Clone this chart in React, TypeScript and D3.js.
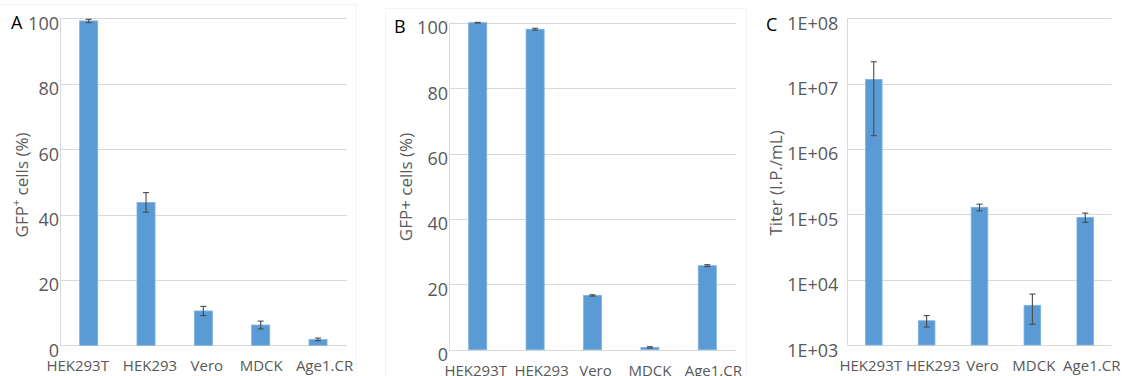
import React, { useEffect, useRef } from "react";
import * as d3 from "d3";

// Cell lines shared by all three panels
const categories = ["HEK293T", "HEK293", "Vero", "MDCK", "Age1.CR"];

// Panel A: GFP+ cells (%)
const gfpA = [99.2, 43.7, 10.5, 6.2, 1.8];
const gfpAErr = [0.5, 3.0, 1.4, 1.2, 0.4];

// Panel B: GFP+ cells (%)
const gfpB = [100, 98.0, 16.6, 0.7, 25.7];
const gfpBErr = [0.1, 0.3, 0.2, 0.2, 0.3];

// Panel C: titer (I.P./mL)
const titerC = [1.16e7, 2350, 1.28e5, 4050, 9.0e4];
const titerCErr = [1.0e7, 470, 1.5e4, 1970, 1.45e4];

const linearTicks = [0, 20, 40, 60, 80, 100];
const logTicks = [1e3, 1e4, 1e5, 1e6, 1e7, 1e8];
const logTickLabels = ["1E+03", "1E+04", "1E+05", "1E+06", "1E+07", "1E+08"];

const BAR = "#5b9bd5";
const GRID = "#d9d9d9";
const TEXT = "#595959";
const ERR = "#4a4a4a";
const FONT = "'Open Sans', 'Segoe UI', sans-serif";

type PanelSpec = {
  letter: string;
  letterX: number;
  letterY: number;
  values: number[];
  errors: number[];
  log: boolean;
  x0: number;
  x1: number;
  yBottom: number;
  yTop: number;
  tickGap: number;
  title: string;
  titleSup: boolean;
  titleX: number;
  titleY: number;
  catY: number;
  labelDx: number[];
};

const panels: PanelSpec[] = [
  {
    letter: "A", letterX: 11, letterY: 29,
    values: gfpA, errors: gfpAErr, log: false,
    x0: 60, x1: 346.7, yBottom: 345.3, yTop: 18.3, tickGap: 1,
    title: "GFP", titleSup: true, titleX: 21, titleY: 185,
    catY: 371, labelDx: [-11, 4, 3.5, 0.5, 6.5],
  },
  {
    letter: "B", letterX: 394, letterY: 33,
    values: gfpB, errors: gfpBErr, log: false,
    x0: 449, x1: 736, yBottom: 349.7, yTop: 22.7, tickGap: 1,
    title: "GFP+ cells (%)", titleSup: false, titleX: 405, titleY: 187,
    catY: 376, labelDx: [-2, 6.5, 3, 0, 6],
  },
  {
    letter: "C", letterX: 766, letterY: 31,
    values: titerC, errors: titerCErr, log: true,
    x0: 847.3, x1: 1111.7, yBottom: 345, yTop: 18.3, tickGap: 9,
    title: "Titer (I.P./mL)", titleSup: false, titleX: 775, titleY: 183,
    catY: 371, labelDx: [-3, 6.5, 3, 1.5, 6.5],
  },
];

function drawPanel(root: d3.Selection<SVGGElement, unknown, null, undefined>, p: PanelSpec) {
  const g = root.append("g");
  const x = d3.scaleBand<string>().domain(categories).range([p.x0, p.x1]).padding(0);
  const y = p.log
    ? d3.scaleLog().domain([1e3, 1e8]).range([p.yBottom, p.yTop])
    : d3.scaleLinear().domain([0, 100]).range([p.yBottom, p.yTop]);
  const ticks = p.log ? logTicks : linearTicks;
  const tickText = (v: number, i: number) => (p.log ? logTickLabels[i] : String(v));

  // horizontal gridlines
  g.selectAll("line.grid")
    .data(ticks)
    .enter()
    .append("line")
    .attr("x1", p.x0)
    .attr("x2", p.x1)
    .attr("y1", (d) => Math.round(y(d)) + 0.5)
    .attr("y2", (d) => Math.round(y(d)) + 0.5)
    .attr("stroke", GRID)
    .attr("stroke-width", 1);

  // vertical axis line
  g.append("line")
    .attr("x1", Math.round(p.x0) + 0.5)
    .attr("x2", Math.round(p.x0) + 0.5)
    .attr("y1", p.yTop)
    .attr("y2", p.yBottom)
    .attr("stroke", GRID);

  // tick labels
  g.selectAll("text.tick")
    .data(ticks)
    .enter()
    .append("text")
    .attr("x", p.x0 - p.tickGap)
    .attr("y", (d) => y(d) + 4.5)
    .attr("text-anchor", "end")
    .attr("dominant-baseline", "central")
    .attr("font-family", FONT)
    .attr("font-size", 18)
    .attr("fill", TEXT)
    .text((d, i) => tickText(d, i));

  const bw = x.bandwidth() * 0.315;
  const cx = (c: string) => (x(c) as number) + x.bandwidth() / 2;

  // bars
  g.selectAll("rect.bar")
    .data(categories)
    .enter()
    .append("rect")
    .attr("x", (c) => cx(c) - bw / 2)
    .attr("y", (c, i) => y(p.values[i]))
    .attr("width", bw)
    .attr("height", (c, i) => p.yBottom - y(p.values[i]))
    .attr("fill", BAR)
    .attr("stroke", "#7fb2e0")
    .attr("stroke-width", 0.8);

  // error bars
  const eg = g.selectAll("g.err").data(categories).enter().append("g");
  const lo = (i: number) => y(Math.max(p.values[i] - p.errors[i], p.log ? 1e3 : 0));
  const hi = (i: number) => y(p.values[i] + p.errors[i]);
  eg.append("line")
    .attr("x1", (c) => cx(c))
    .attr("x2", (c) => cx(c))
    .attr("y1", (c, i) => lo(i))
    .attr("y2", (c, i) => hi(i))
    .attr("stroke", ERR)
    .attr("stroke-width", 1.1);
  [lo, hi].forEach((f) => {
    eg.append("line")
      .attr("x1", (c) => cx(c) - 3)
      .attr("x2", (c) => cx(c) + 3)
      .attr("y1", (c, i) => f(i))
      .attr("y2", (c, i) => f(i))
      .attr("stroke", ERR)
      .attr("stroke-width", 1.1);
  });

  // category labels
  g.selectAll("text.cat")
    .data(categories)
    .enter()
    .append("text")
    .attr("x", (c, i) => cx(c) + p.labelDx[i])
    .attr("y", p.catY)
    .attr("text-anchor", "middle")
    .attr("font-family", FONT)
    .attr("font-size", 15)
    .attr("fill", TEXT)
    .text((c) => c);

  // axis title
  const t = g
    .append("text")
    .attr("transform", `translate(${p.titleX},${p.titleY}) rotate(-90)`)
    .attr("text-anchor", "middle")
    .attr("dominant-baseline", "central")
    .attr("font-family", FONT)
    .attr("font-size", 17)
    .attr("fill", TEXT);
  if (p.titleSup) {
    t.append("tspan").text(p.title);
    t.append("tspan").attr("font-size", 11).attr("dy", -6).text("+");
    t.append("tspan").attr("dy", 6).text(" cells (%)");
  } else {
    t.text(p.title);
  }

  // panel letter
  g.append("text")
    .attr("x", p.letterX)
    .attr("y", p.letterY)
    .attr("font-family", FONT)
    .attr("font-size", 18)
    .attr("fill", "#000")
    .text(p.letter);
}

export default function App() {
  const ref = useRef<SVGSVGElement>(null);

  useEffect(() => {
    document.body.style.margin = "0";
    const svg = d3.select(ref.current);
    svg.selectAll("*").remove();
    const root = svg.append("g");

    // faint chart-area frames
    const frame = root.append("g").attr("fill", "none").attr("stroke", "#f3f3f3");
    frame.append("rect").attr("x", -1).attr("y", 4.5).attr("width", 357).attr("height", 380);
    frame.append("rect").attr("x", 385.5).attr("y", 8.5).attr("width", 361).attr("height", 380);

    panels.forEach((p) => drawPanel(root, p));
  }, []);

  return (
    <svg
      ref={ref}
      width={1126}
      height={376}
      style={{ display: "block", background: "#fff" }}
    />
  );
}
